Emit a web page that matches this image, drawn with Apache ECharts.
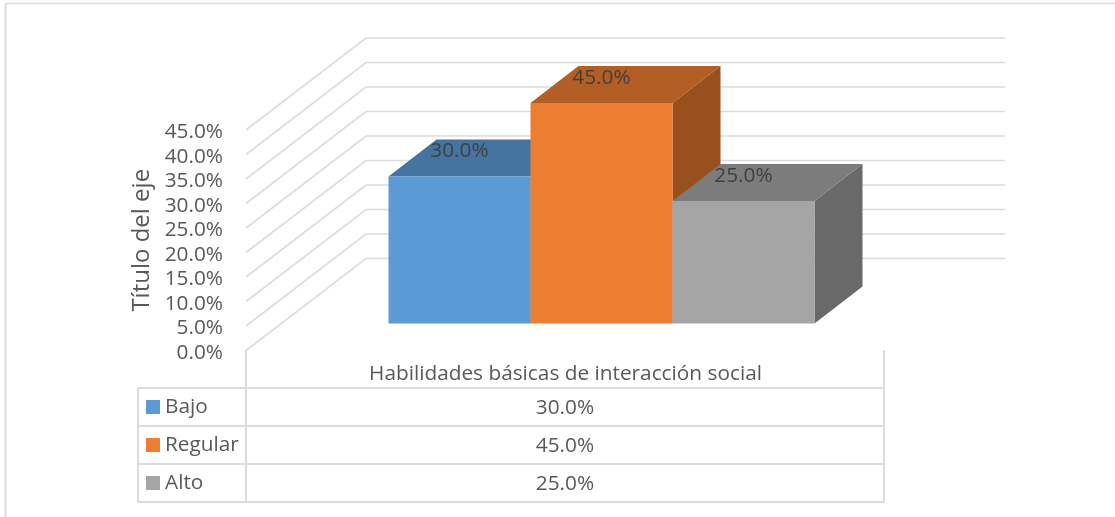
<!DOCTYPE html>
<html><head><meta charset="utf-8">
<style>html,body{margin:0;padding:0;background:#fff}#c{width:1115px;height:517px}</style>
<script src="https://cdn.jsdelivr.net/npm/echarts@6/dist/echarts.min.js"></script>
</head><body><div id="c"></div>
<script>
var categories = ['Habilidades básicas de interacción social'];
var seriesNames = ['Bajo', 'Regular', 'Alto'];
var bajo = [30.0];
var regular = [45.0];
var alto = [25.0];
var yTicks = [0, 5, 10, 15, 20, 25, 30, 35, 40, 45];
var axisTitle = 'Título del eje';

var FONT = '"Open Sans", sans-serif';
var TXT = '#595959', LINE = '#dcdcdc';
var FS = 20.8;
var faces = [
  {front:'#5B9BD5', top:'#4674A0', side:'#3E6A93'},
  {front:'#ED7D31', top:'#B35E24', side:'#99501C'},
  {front:'#A5A5A5', top:'#7C7C7C', side:'#696969'}
];
var WALL = {dx:120, dy:-92};
var BAR_OFF = {dx:36, dy:-27};
var BAR_DEPTH = {dx:48, dy:-37};

function pct(v){ return v.toFixed(1) + '%'; }

function wallItem(params, api){
  var v = api.value(1), p = api.coord([0, v]);
  var band = api.size([1, 0])[0];
  var x0 = p[0] - band/2;
  return {type:'polyline', silent:true, shape:{points:[[x0,p[1]],[x0+WALL.dx,p[1]+WALL.dy],[x0+WALL.dx+band,p[1]+WALL.dy]]},
    style:{stroke:LINE, lineWidth:1.6, fill:null}};
}
function barItem(idx){
  return function(params, api){
    var v = api.value(1);
    var pTop = api.coord([0, v]), pBase = api.coord([0, 0]);
    var band = api.size([1, 0])[0], w = band/4.5;
    var cx = pTop[0] + BAR_OFF.dx + (idx-1)*w;
    var l = cx - w/2, r = cx + w/2;
    var t = pTop[1] + BAR_OFF.dy, b = pBase[1] + BAR_OFF.dy;
    var dx = BAR_DEPTH.dx, dy = BAR_DEPTH.dy, f = faces[idx];
    return {type:'group', children:[
      {type:'polygon', shape:{points:[[r,t],[r+dx,t+dy],[r+dx,b+dy],[r,b]]}, style:{fill:f.side}},
      {type:'polygon', shape:{points:[[l,t],[l+dx,t+dy],[r+dx,t+dy],[r,t]]}, style:{fill:f.top}},
      {type:'rect', shape:{x:l, y:t, width:r-l, height:b-t}, style:{fill:f.front}},
      {type:'text', style:{x:cx, y:t-25, text:pct(v), align:'center', verticalAlign:'middle', fill:'#404040', font:FS+'px '+FONT}}
    ]};
  };
}

var tX = [138, 246, 884], tY = [388, 426, 464, 502], tTop = 350;
var graphics = [
  {type:'line', shape:{x1:5.5,y1:3.5,x2:5.5,y2:517}, style:{stroke:LINE,lineWidth:2}},
  {type:'line', shape:{x1:5,y1:3.5,x2:1115,y2:3.5}, style:{stroke:LINE,lineWidth:1.5}},
  {type:'line', shape:{x1:tX[1],y1:tTop,x2:tX[1],y2:tY[3]}, style:{stroke:LINE,lineWidth:2}},
  {type:'line', shape:{x1:tX[2],y1:tTop,x2:tX[2],y2:tY[3]}, style:{stroke:LINE,lineWidth:2}},
  {type:'line', shape:{x1:tX[0],y1:tY[0],x2:tX[0],y2:tY[3]}, style:{stroke:LINE,lineWidth:2}}
];
tY.forEach(function(y){
  graphics.push({type:'line', shape:{x1:tX[0],y1:y,x2:tX[2],y2:y}, style:{stroke:LINE,lineWidth:2}});
});
[bajo, regular, alto].forEach(function(arr, i){
  graphics.push({type:'text', x:(tX[1]+tX[2])/2, y:(tY[i]+tY[i+1])/2+1.5,
    style:{text:pct(arr[0]), align:'center', verticalAlign:'middle', fill:TXT, font:FS+'px '+FONT}});
});

var chart = echarts.init(document.getElementById('c'), null, {renderer:'canvas'});
chart.setOption({
  animation:false,
  backgroundColor:'#fff',
  textStyle:{fontFamily:FONT},
  grid:{left:246, right:230, top:130, bottom:517-350.5},
  legend:{orient:'vertical', left:141, top:390, itemWidth:14, itemHeight:14, itemGap:14, icon:'rect', selectedMode:false,
    data:seriesNames, textStyle:{color:TXT, fontSize:FS, fontFamily:FONT, lineHeight:24}},
  xAxis:{type:'category', data:categories, axisLine:{show:false}, axisTick:{show:false}, splitLine:{show:false},
    axisLabel:{color:TXT, fontSize:FS, fontFamily:FONT, margin:13}},
  yAxis:{type:'value', min:0, max:yTicks[yTicks.length-1], interval:5, axisLine:{show:false}, axisTick:{show:false}, splitLine:{show:false},
    axisLabel:{margin:23, formatter:function(v){return '{a|' + pct(v) + '}';},
      rich:{a:{color:TXT, fontSize:FS, fontFamily:FONT, padding:[5,0,0,0]}}},
    name:axisTitle, nameLocation:'middle', nameGap:92, nameRotate:90, nameTextStyle:{color:TXT, fontSize:24, fontFamily:FONT}},
  series:[
    {type:'custom', name:'walls', silent:true, renderItem:wallItem, z:1, data:yTicks.map(function(t){return [0,t];}), encode:{x:0,y:1}},
    {type:'custom', name:seriesNames[0], renderItem:barItem(0), z:2, itemStyle:{color:faces[0].front}, data:[[0,bajo[0]]], encode:{x:0,y:1}},
    {type:'custom', name:seriesNames[1], renderItem:barItem(1), z:3, itemStyle:{color:faces[1].front}, data:[[0,regular[0]]], encode:{x:0,y:1}},
    {type:'custom', name:seriesNames[2], renderItem:barItem(2), z:4, itemStyle:{color:faces[2].front}, data:[[0,alto[0]]], encode:{x:0,y:1}}
  ],
  graphic:graphics
});
</script></body></html>
